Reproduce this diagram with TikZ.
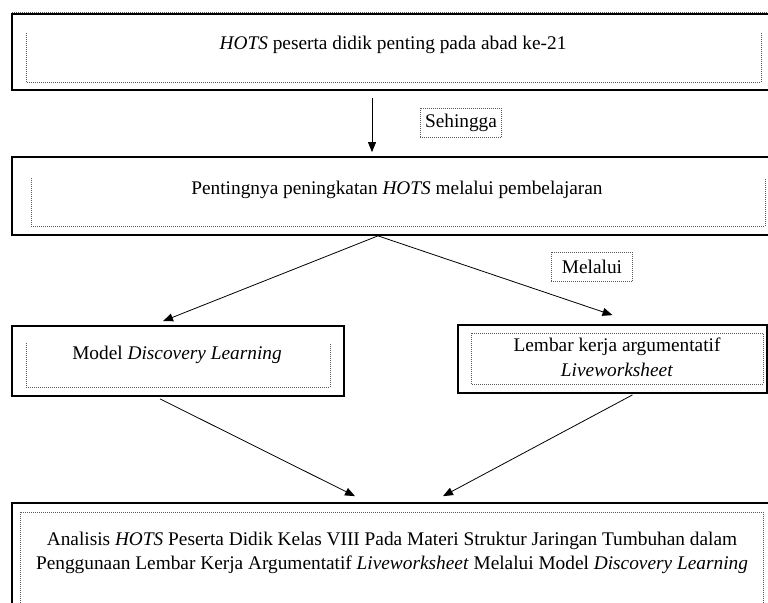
\documentclass[tikz,border=0pt]{standalone}
\usepackage{fontspec}
\setmainfont{Liberation Serif}
\usetikzlibrary{arrows.meta}
\usetikzlibrary{calc}

\begin{document}
\begin{tikzpicture}[x=0.75pt, y=-0.75pt, >={Triangle[length=7.5pt,width=6pt]},
    box/.style={draw, line width=1.3pt, inner sep=0pt},
    frame/.style={draw=black!65, densely dotted, line width=0.5pt},
    tag/.style={draw=black!65, densely dotted, line width=0.5pt, minimum width=61pt, minimum height=21.75pt, font=\fontsize{14.5}{18}\selectfont},
    txt/.style={font=\fontsize{14.5}{18.5}\selectfont, align=center, inner sep=0pt}]

        \useasboundingbox (0,0) rectangle (768,603);

        % Boxes
        \node[box, minimum width=570pt, minimum height=57pt] (hots) at (392,52) {};
        \node[box, minimum width=570pt, minimum height=58.5pt] (pent) at (392,196) {};
        \node[box, minimum width=249pt, minimum height=52.5pt] (model) at (178,361) {};
        \node[box, minimum width=231.75pt, minimum height=51pt] (lembar) at (612.5,359) {};
        \node[box, minimum width=570pt, minimum height=80.25pt] (analisis) at (392,556.5) {};

        % Dotted inner frames
        \draw[frame] (12,12) -- (772,12);
        \draw[frame] (26,33) -- (26,82) -- (761,82) -- (761,33);
        \draw[frame] (31,178) -- (31,226) -- (765,226) -- (765,178);
        \draw[frame] (26,343) -- (26,387) -- (330,387) -- (330,343);
        \draw[frame] (471,333) rectangle (763,384);
        \draw[frame] (20,512) rectangle (763,606);

        % Texts
        \node[txt] (thots) at (393,45) {\textit{HOTS} peserta didik penting pada abad ke-21};
        \node[txt] (tpent) at (397,190) {Pentingnya peningkatan \textit{HOTS} melalui pembelajaran};
        \node[txt] (tmodel) at (177,355) {Model \textit{Discovery Learning}};
        \node[txt] (tlembar) at (617,357) {Lembar kerja argumentatif\\\textit{Liveworksheet}};
        \node[txt] (tanalisis) at (392,553) {Analisis \textit{HOTS} Peserta Didik Kelas VIII Pada Materi Struktur Jaringan Tumbuhan dalam\\Penggunaan Lembar Kerja Argumentatif \textit{Liveworksheet} Melalui Model \textit{Discovery Learning}};

        % Labels
        \node[tag] (sehingga) at (461,122.5) {Sehingga};
        \node[tag] (melalui) at (592,266.5) {Melalui};

        % Arrows
        \draw[->, line width=0.6pt] ($(hots.south)+(-20,7)$) -- ($(pent.north)+(-20,-4)$);
        \draw[->, line width=0.6pt] ($(pent.south)+(-14,0)$) -- ($(model.north)+(-15,-4)$);
        \draw[->, line width=0.6pt] ($(pent.south)+(-14,0)$) -- ($(lembar.north)+(0,-9)$);
        \draw[->, line width=0.6pt] ($(model.south)+(-18,2)$) -- ($(analisis.north)+(-37,-6)$);
        \draw[->, line width=0.6pt] ($(lembar.south)+(20,1)$) -- ($(analisis.north)+(51,-6)$);
        \end{tikzpicture}
\end{document}
